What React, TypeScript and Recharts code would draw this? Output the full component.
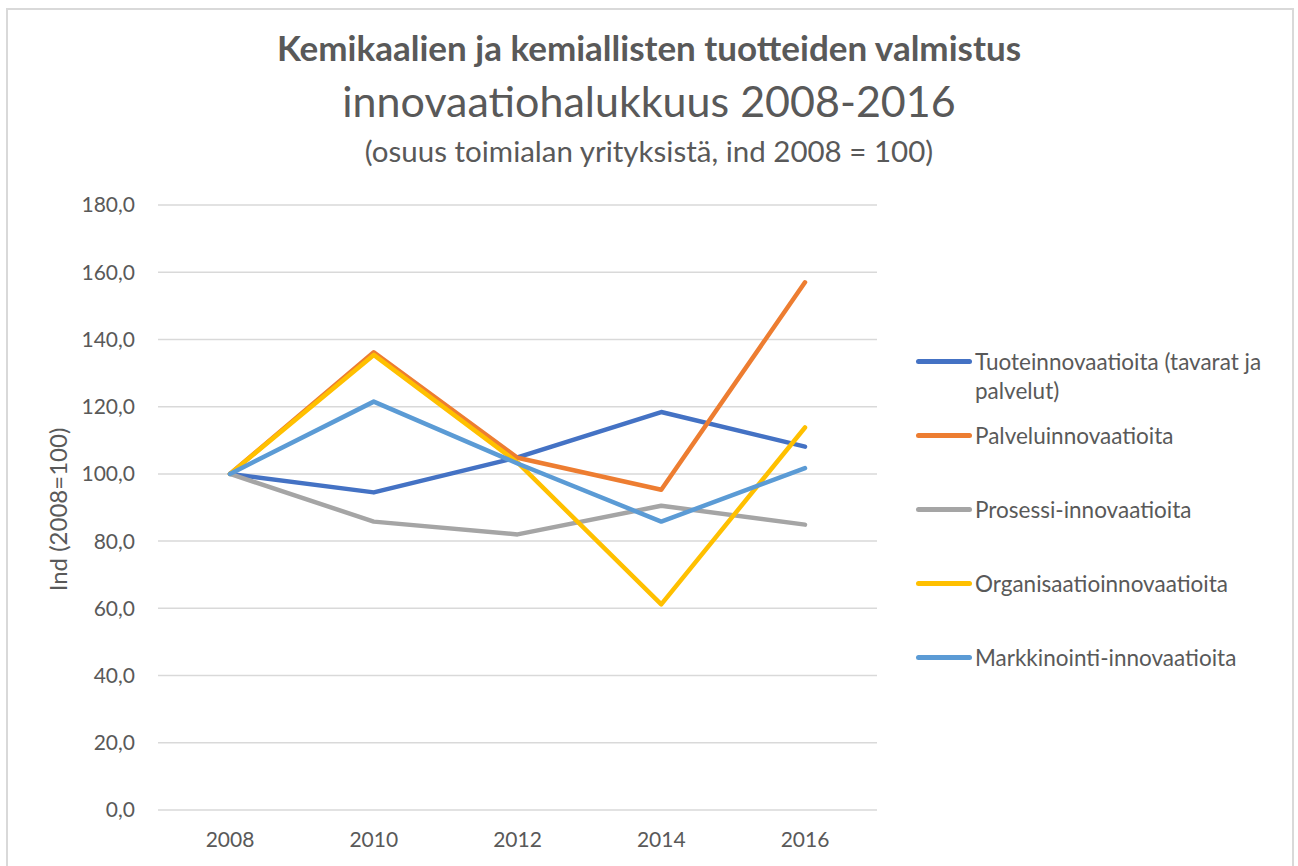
import React from 'react';
import { LineChart, Line, XAxis, YAxis, CartesianGrid, Legend } from 'recharts';

const years = ['2008', '2010', '2012', '2014', '2016'];
const tuote = [100, 94.5, 104.9, 118.4, 108.1];
const palvelu = [100, 136.2, 104.8, 95.3, 157.0];
const prosessi = [100, 85.8, 82.0, 90.5, 84.9];
const organisaatio = [100, 135.4, 103.4, 61.2, 113.8];
const markkinointi = [100, 121.5, 103.1, 85.8, 101.7];
const yTicks = [0, 20, 40, 60, 80, 100, 120, 140, 160, 180];

const series = [
  { key: 'tuote', name: 'Tuoteinnovaatioita (tavarat ja palvelut)', values: tuote, color: '#4472C4' },
  { key: 'palvelu', name: 'Palveluinnovaatioita', values: palvelu, color: '#ED7D31' },
  { key: 'prosessi', name: 'Prosessi-innovaatioita', values: prosessi, color: '#A5A5A5' },
  { key: 'organisaatio', name: 'Organisaatioinnovaatioita', values: organisaatio, color: '#FFC000' },
  { key: 'markkinointi', name: 'Markkinointi-innovaatioita', values: markkinointi, color: '#5B9BD5' },
];

const chartData = years.map((year, i) => {
  const row: { [key: string]: string | number } = { year };
  series.forEach(s => {
    row[s.key] = s.values[i];
  });
  return row;
});

const FONT = 'Lato, "Open Sans", sans-serif';
const TEXT = '#595959';

const renderLegend = () => (
  <div style={{ fontFamily: FONT, fontSize: 22.5, color: TEXT }}>
    {series.map(s => (
      <div key={s.key} style={{ display: 'flex', alignItems: 'flex-start', height: 74 }}>
        <div style={{ width: 56, height: 5, borderRadius: 3, background: s.color, marginTop: 12, flexShrink: 0 }} />
        <div style={{ marginLeft: 3, width: 305, lineHeight: '29px', textAlign: 'left' }}>{s.name}</div>
      </div>
    ))}
  </div>
);

const App: React.FC = () => {
  return (
    <div style={{ position: 'absolute', left: 0, top: 0, width: 1298, height: 866, background: '#fff', overflow: 'hidden' }}>
      <div style={{ position: 'absolute', left: 6, top: 8, width: 1284, height: 900, border: '2px solid #d9d9d9' }} />
      <div style={{ position: 'absolute', left: 0, top: 0, width: 1298, textAlign: 'center', fontFamily: FONT, color: TEXT, lineHeight: 1 }}>
        <div style={{ position: 'absolute', top: 30, width: 1298, fontSize: 35, fontWeight: 700 }}>
          Kemikaalien ja kemiallisten tuotteiden valmistus
        </div>
        <div style={{ position: 'absolute', top: 79, width: 1298, fontSize: 43 }}>
          innovaatiohalukkuus 2008-2016
        </div>
        <div style={{ position: 'absolute', top: 136, width: 1298, fontSize: 29.5 }}>
          (osuus toimialan yrityksistä, ind 2008 = 100)
        </div>
      </div>
      <div style={{ position: 'absolute', left: 0, top: 0 }}>
        <LineChart width={1298} height={866} data={chartData} margin={{ top: 205, right: 421, left: 0, bottom: 0 }}>
          <CartesianGrid vertical={false} stroke="#d9d9d9" strokeWidth={1.5} />
          <XAxis
            dataKey="year"
            height={56}
            axisLine={false}
            tickLine={false}
            tickSize={0}
            tickMargin={22}
            padding={{ left: 72, right: 72 }}
            tick={{ fill: TEXT, fontSize: 21, fontFamily: FONT }}
          />
          <YAxis
            width={158}
            domain={[0, 180]}
            ticks={yTicks}
            axisLine={false}
            tickLine={false}
            tickSize={0}
            tickMargin={23}
            tickFormatter={(v: number) => v.toFixed(1).replace('.', ',')}
            tick={{ fill: TEXT, fontSize: 21, fontFamily: FONT }}
            label={{ value: 'Ind (2008=100)', angle: -90, position: 'center', dx: -21, dy: 2, style: { fill: TEXT, fontSize: 24, fontFamily: FONT } }}
          />
          <Legend
            layout="vertical"
            align="center"
            verticalAlign="middle"
            content={renderLegend}
            wrapperStyle={{ left: 916, top: 347, width: 380 }}
          />
          {series.map(s => (
            <Line
              key={s.key}
              type="linear"
              dataKey={s.key}
              name={s.name}
              stroke={s.color}
              strokeWidth={4.5}
              strokeLinecap="round"
              strokeLinejoin="round"
              dot={false}
              activeDot={false}
              isAnimationActive={false}
            />
          ))}
        </LineChart>
      </div>
    </div>
  );
};

export default App;
